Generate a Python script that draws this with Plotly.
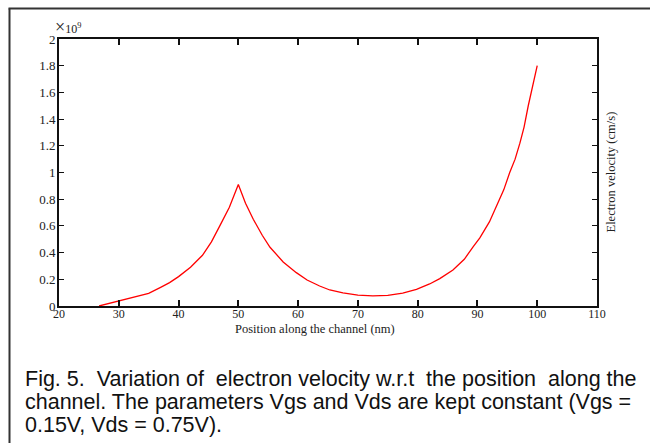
import plotly.graph_objects as go

# Position along the channel (nm)
position_nm = [26.7, 28, 30, 32, 35, 37, 38.5, 40, 42, 44, 45.5, 46.9, 48.5, 50,
               51.2, 52.5, 54, 55.3, 57.5, 59.7, 61.5, 63.6, 65.3, 67.5, 70,
               72.5, 75, 77.5, 79.8, 82, 83.7, 85.9, 87.8, 89.3, 90.4, 92,
               93.2, 94.4, 95.4, 96.3, 97.1, 97.8, 98.5, 99.2, 100]
# Electron velocity (x 1e9 cm/s)
velocity_e9 = [0.0, 0.015, 0.035, 0.058, 0.095, 0.14, 0.175, 0.22, 0.29, 0.38, 0.48, 0.60, 0.74, 0.91,
               0.77, 0.65, 0.53, 0.44, 0.33, 0.25, 0.195, 0.15, 0.12, 0.098, 0.082,
               0.076, 0.08, 0.097, 0.125, 0.165, 0.205, 0.27, 0.35, 0.445, 0.51, 0.63,
               0.75, 0.87, 1.0, 1.1, 1.22, 1.34, 1.5, 1.65, 1.8]

x_ticks = [20, 30, 40, 50, 60, 70, 80, 90, 100, 110]
y_ticks = [0, 0.2, 0.4, 0.6, 0.8, 1.0, 1.2, 1.4, 1.6, 1.8, 2.0]
y_tick_text = ["0", "0.2", "0.4", "0.6", "0.8", "1", "1.2", "1.4", "1.6", "1.8", "2"]

NB = "\u00a0 "  # slightly wider gap used to imitate the justified first line
caption_lines = [
    "Fig. 5." + NB + "Variation of" + NB + "electron velocity w.r.t" + NB + "the position"
    + NB + "along the",
    "channel. The parameters Vgs and Vds are kept constant (Vgs =",
    "0.15V, Vds = 0.75V).",
]

W, H = 650, 443
L, R, T, B = 59, 597, 39, 306


def xp(px):
    return (px - L) / (R - L)


def yp(py):
    return (B - py) / (B - T)


serif = "Liberation Serif"
sans = "Liberation Sans"

fig = go.Figure()
fig.add_trace(go.Scatter(x=position_nm, y=velocity_e9, mode="lines",
                         line=dict(color="#ff0000", width=1.3),
                         showlegend=False, hoverinfo="skip"))

fig.update_layout(
    width=W, height=H,
    margin=dict(l=L, r=W - R, t=T, b=H - B),
    paper_bgcolor="white", plot_bgcolor="white",
    font=dict(family=serif, size=13, color="#222"),
    xaxis=dict(range=[20, 110], tickvals=x_ticks, ticks="inside", ticklen=6,
               tickwidth=1.5, tickcolor="#111", showline=True, linecolor="#111",
               linewidth=2, mirror="ticks", showgrid=False, zeroline=False,
               ticklabelstandoff=-4,
               tickfont=dict(family=serif, size=12, color="#222")),
    yaxis=dict(range=[0, 2], tickvals=y_ticks, ticktext=y_tick_text, ticks="inside",
               ticklen=5, tickwidth=1.2, tickcolor="#111", showline=True,
               linecolor="#111", linewidth=2, mirror="ticks", showgrid=False,
               zeroline=False, ticklabelstandoff=-1,
               tickfont=dict(family=serif, size=13, color="#222")),
)

anns = [
    dict(text="<span style='font-size:18px'>×</span>10<sup>9</sup>", x=xp(52.5), y=yp(39),
         xanchor="left", yanchor="bottom",
         font=dict(family=serif, size=12, color="#222")),
    dict(text="Position along the channel (nm)", x=xp(315), y=yp(328.5), xanchor="center",
         yanchor="middle", font=dict(family=serif, size=12.5, color="#222")),
    dict(text="Electron velocity (cm/s)", x=xp(610), y=yp(172.5), textangle=-90,
         xanchor="center", yanchor="middle",
         font=dict(family=serif, size=12.5, color="#222")),
]
line_y = [378.5, 401.5, 425]
for txt, ly in zip(caption_lines, line_y):
    anns.append(dict(text=txt, x=xp(23), y=yp(ly), xanchor="left", yanchor="middle",
                     font=dict(family=sans, size=21.5, color="#111")))
for a in anns:
    a.update(xref="paper", yref="paper", showarrow=False)
fig.update_layout(annotations=anns)

# outer frame (left and top edges)
fig.add_shape(type="line", xref="paper", yref="paper", x0=xp(9.5), x1=xp(9.5),
              y0=yp(8.5), y1=yp(445), line=dict(color="#333", width=2))
fig.add_shape(type="line", xref="paper", yref="paper", x0=xp(8.5), x1=xp(652),
              y0=yp(8.5), y1=yp(8.5), line=dict(color="#333", width=2))

fig.write_html("out.html", config={"displayModeBar": False},
               post_script="document.body.style.margin='0px';")
